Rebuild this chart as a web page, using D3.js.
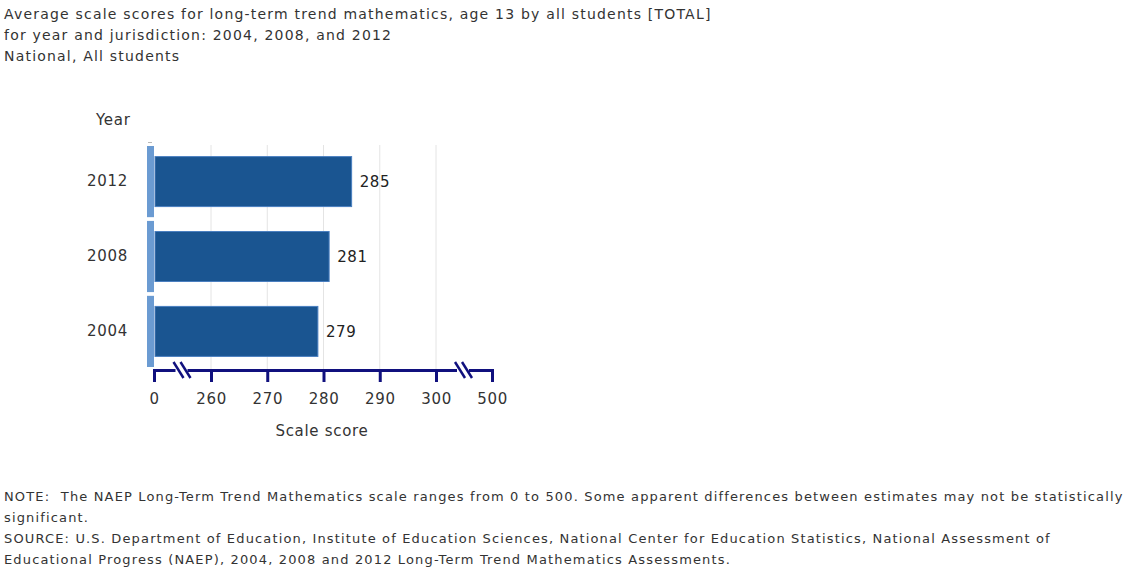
<!DOCTYPE html>
<html lang="en">
<head>
<meta charset="utf-8">
<title>Long-term trend mathematics, age 13</title>
<script src="https://d3js.org/d3.v7.min.js"></script>
<style>
  body { margin: 0; background: #fff; }
  text { font-family: "DejaVu Sans", sans-serif; fill: #333; white-space: pre; }
  .title { font-size: 14px; letter-spacing: 1.2px; }
  .note { font-size: 13px; letter-spacing: 1.15px; }
  .lbl { font-size: 15px; letter-spacing: 0.7px; }
</style>
</head>
<body>
<script>
var w = 1132, h = 583;

// data
var years = ["2012", "2008", "2004"];
var scores = [285, 281, 279];
var tickValues = [0, 260, 270, 280, 290, 300, 500];
var gridValues = [260, 270, 280, 290, 300];
var titleLines = [
  "Average scale scores for long-term trend mathematics, age 13 by all students [TOTAL]",
  "for year and jurisdiction: 2004, 2008, and 2012",
  "National, All students"
];
var noteLines = [
  "NOTE:  The NAEP Long-Term Trend Mathematics scale ranges from 0 to 500. Some apparent differences between estimates may not be statistically",
  "significant.",
  "SOURCE: U.S. Department of Education, Institute of Education Sciences, National Center for Education Statistics, National Assessment of",
  "Educational Progress (NAEP), 2004, 2008 and 2012 Long-Term Trend Mathematics Assessments."
];

var svg = d3.select("body").append("svg")
    .attr("width", w)
    .attr("height", h);

svg.selectAll("text.title")
    .data(titleLines)
    .enter().append("text")
    .attr("class", "title")
    .attr("x", 4)
    .attr("y", function(d, i) { return 19 + i * 21; })
    .text(function(d) { return d; });

// broken axis: 0 | 260..300 | 500
var x = d3.scaleLinear()
    .domain([0, 260, 300, 500])
    .range([154, 211, 436, 492]);

var y = d3.scaleBand()
    .domain(years)
    .range([146, 367])
    .paddingInner(0.05);

var axisY = 370;

// gridlines
svg.append("g")
    .selectAll("line")
    .data(gridValues)
    .enter().append("line")
    .attr("x1", function(d) { return x(d); })
    .attr("x2", function(d) { return x(d); })
    .attr("y1", 145)
    .attr("y2", axisY)
    .attr("stroke", "#e4e4e4")
    .attr("stroke-width", 1);

// left category strip
svg.append("line")
    .attr("x1", 148).attr("x2", 152)
    .attr("y1", 142.5).attr("y2", 142.5)
    .attr("stroke", "#b8b8b8");
svg.append("g")
    .selectAll("rect")
    .data(years)
    .enter().append("rect")
    .attr("x", 147)
    .attr("y", function(d) { return y(d); })
    .attr("width", 7)
    .attr("height", y.bandwidth())
    .attr("fill", "#6b9bd2");

// bars
var barH = 50;
svg.append("g")
    .selectAll("rect")
    .data(scores)
    .enter().append("rect")
    .attr("x", 155)
    .attr("y", function(d, i) { return y(years[i]) + (y.bandwidth() - barH) / 2; })
    .attr("width", function(d) { return x(d) - 155; })
    .attr("height", barH)
    .attr("fill", "#1a5591")
    .attr("stroke", "#4a7fc0")
    .attr("stroke-width", 1);

// value labels
svg.append("g")
    .selectAll("text")
    .data(scores)
    .enter().append("text")
    .attr("class", "lbl")
    .attr("x", function(d) { return x(d) + 8; })
    .attr("y", function(d, i) { return y(years[i]) + y.bandwidth() / 2; })
    .attr("dy", "0.35em")
    .style("fill", "#222")
    .text(function(d) { return d; });

// y axis labels
var yAxis = d3.axisLeft(y).tickSize(0).tickPadding(19);
var gy = svg.append("g")
    .attr("transform", "translate(147,0)")
    .call(yAxis);
gy.select(".domain").remove();
gy.selectAll("text")
    .attr("class", "lbl")
    .style("font-family", "'DejaVu Sans', sans-serif")
    .style("fill", "#333");

// x axis
var xAxis = d3.axisBottom(x)
    .tickValues(tickValues)
    .tickSizeInner(12)
    .tickSizeOuter(0)
    .tickPadding(11)
    .tickFormat(d3.format("d"));
var gx = svg.append("g")
    .attr("transform", "translate(0," + axisY + ")")
    .call(xAxis);
gx.select(".domain")
    .attr("stroke", "#10107e")
    .attr("stroke-width", 3)
    .attr("stroke-linecap", "square");
gx.selectAll(".tick line")
    .attr("stroke", "#10107e")
    .attr("stroke-width", 3);
gx.selectAll(".tick text")
    .attr("class", "lbl")
    .style("font-family", "'DejaVu Sans', sans-serif")
    .style("fill", "#333");

// axis break marks
var breaks = [(x(0) + x(260)) / 2, (x(300) + x(500)) / 2];
breaks.forEach(function(bx) {
  svg.append("rect")
      .attr("x", bx - 7)
      .attr("y", axisY - 3)
      .attr("width", 12)
      .attr("height", 6)
      .attr("fill", "#fff");
  [-4, 3].forEach(function(off) {
    svg.append("line")
        .attr("x1", bx + off - 5)
        .attr("y1", axisY - 8)
        .attr("x2", bx + off + 5)
        .attr("y2", axisY + 8)
        .attr("stroke", "#10107e")
        .attr("stroke-width", 2.5);
  });
});

// axis titles
svg.append("text")
    .attr("class", "lbl")
    .attr("x", 96)
    .attr("y", 125)
    .text("Year");

svg.append("text")
    .attr("class", "lbl")
    .attr("x", 322)
    .attr("y", 436)
    .attr("text-anchor", "middle")
    .text("Scale score");

svg.selectAll("text.note")
    .data(noteLines)
    .enter().append("text")
    .attr("class", "note")
    .attr("x", 4)
    .attr("y", function(d, i) { return 501 + i * 21; })
    .text(function(d) { return d; });
</script>
</body>
</html>
